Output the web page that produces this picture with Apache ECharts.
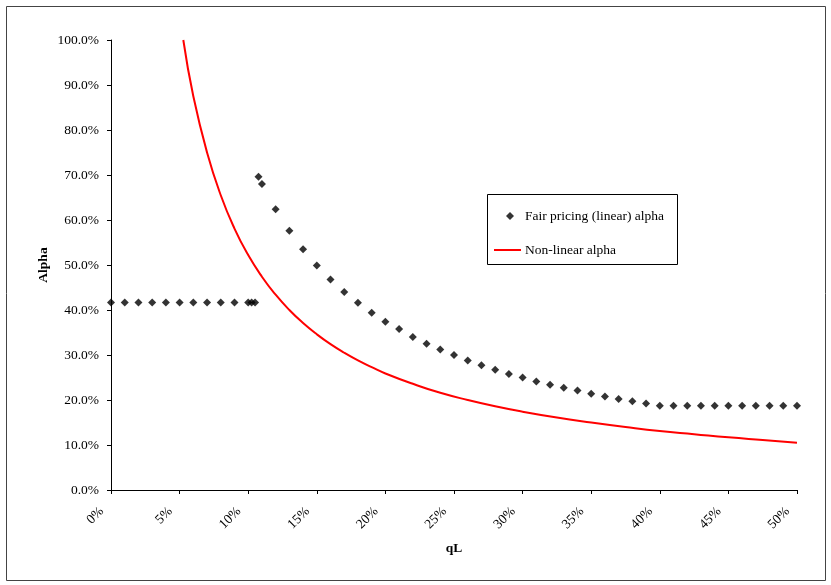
<!DOCTYPE html>
<html>
<head>
<meta charset="utf-8">
<script src="https://cdn.jsdelivr.net/npm/echarts@6/dist/echarts.min.js"></script>
<style>
  html, body { margin: 0; padding: 0; background: #fff; }
  #chart { width: 831px; height: 585px; }
</style>
</head>
<body>
<div id="chart"></div>
<script>
// Fair pricing (linear) alpha, sampled points: qL (%) and alpha (%)
const qLinear = [0, 1, 2, 3, 4, 5, 6, 7, 8, 9, 10, 10.25, 10.5,
  10.75, 11, 12, 13, 14, 15, 16, 17, 18, 19, 20, 21, 22, 23, 24, 25,
  26, 27, 28, 29, 30, 31, 32, 33, 34, 35, 36, 37, 38, 39,
  40, 41, 42, 43, 44, 45, 46, 47, 48, 49, 50];
const alphaLinear = [41.67, 41.67, 41.67, 41.67, 41.67, 41.67, 41.67, 41.67, 41.67, 41.67, 41.67, 41.67, 41.67,
  69.6, 68.0, 62.4, 57.6, 53.5, 49.9, 46.8, 44.0, 41.6, 39.4, 37.4, 35.8, 34.0, 32.5, 31.2, 30.0,
  28.8, 27.7, 26.7, 25.8, 25.0, 24.1, 23.4, 22.7, 22.1, 21.4, 20.8, 20.2, 19.7, 19.2,
  18.75, 18.75, 18.75, 18.75, 18.75, 18.75, 18.75, 18.75, 18.75, 18.75, 18.75];

// Non-linear alpha curve: qL (%) and alpha (%)
const qNonLinear = [5.27, 6, 7, 8, 9, 10, 11, 12, 13, 14, 15, 16, 17, 18, 19, 20,
  22, 24, 26, 28, 30, 32.5, 35, 37.5, 40, 42.5, 45, 47.5, 50];
const alphaNonLinear = [100, 87.5, 75.0, 65.5, 58.1, 52.2, 47.4, 43.4, 40.0, 37.1, 34.6, 32.4, 30.5, 28.8, 27.3, 25.9,
  23.6, 21.6, 20.0, 18.6, 17.4, 16.1, 15.0, 14.0, 13.1, 12.4, 11.7, 11.1, 10.5];

// Axis tick settings
const xTickStep = 5;
const yTickStep = 10;

const FONT = 'Liberation Serif';
const SERIES_LINEAR = 'Fair pricing (linear) alpha';
const SERIES_NONLINEAR = 'Non-linear alpha';

const chart = echarts.init(document.getElementById('chart'), null, { renderer: 'canvas' });

const legendText = { fontFamily: FONT, fontSize: 13.5, color: '#000' };

chart.setOption({
  backgroundColor: '#ffffff',
  animation: false,
  textStyle: { fontFamily: FONT, color: '#000' },
  graphic: [
    {
      // outer frame
      type: 'rect',
      shape: { x: 6.5, y: 6.5, width: 819, height: 574 },
      style: { fill: 'none', stroke: '#444', lineWidth: 1 },
      silent: true,
      z: -1
    },
    {
      // legend frame
      type: 'rect',
      shape: { x: 487.5, y: 194.5, width: 190, height: 70 },
      style: { fill: '#fff', stroke: '#000', lineWidth: 1 },
      silent: true,
      z: 5
    }
  ],
  grid: { left: 111, right: 34, top: 40, bottom: 95 },
  legend: [
    {
      left: 506,
      top: 209,
      padding: 0,
      itemWidth: 8,
      itemHeight: 8,
      z: 10,
      textStyle: Object.assign({ padding: [0, 0, 0, 6] }, legendText),
      data: [{ name: SERIES_LINEAR, icon: 'diamond' }]
    },
    {
      left: 494,
      top: 243,
      padding: 0,
      itemWidth: 27,
      itemHeight: 2,
      z: 10,
      textStyle: Object.assign({ padding: [0, 0, 0, -1] }, legendText),
      data: [{ name: SERIES_NONLINEAR, icon: 'rect' }]
    }
  ],
  xAxis: {
    type: 'value',
    min: 0,
    max: 50,
    interval: xTickStep,
    name: 'qL',
    nameLocation: 'middle',
    nameGap: 52,
    nameTextStyle: { fontFamily: FONT, fontSize: 13.5, fontWeight: 'bold', color: '#000' },
    axisLine: { show: true, onZero: false, lineStyle: { color: '#000', width: 1 } },
    axisTick: { show: true, inside: false, length: 4, lineStyle: { color: '#000' } },
    axisLabel: {
      rotate: 45,
      margin: 10,
      padding: [0, 13, 0, 0],
      fontFamily: FONT,
      fontSize: 13.5,
      color: '#000',
      formatter: v => v + '%'
    },
    splitLine: { show: false }
  },
  yAxis: {
    type: 'value',
    min: 0,
    max: 100,
    interval: yTickStep,
    name: 'Alpha',
    nameLocation: 'middle',
    nameGap: 60,
    nameMoveOverlap: false,
    nameRotate: 90,
    nameTextStyle: { fontFamily: FONT, fontSize: 13.5, fontWeight: 'bold', color: '#000' },
    axisLine: { show: true, lineStyle: { color: '#000', width: 1 } },
    axisTick: { show: true, inside: false, length: 4, lineStyle: { color: '#000' } },
    axisLabel: {
      margin: 12,
      fontFamily: FONT,
      fontSize: 13.5,
      color: '#000',
      formatter: v => v.toFixed(1) + '%'
    },
    splitLine: { show: false }
  },
  series: [
    {
      name: SERIES_LINEAR,
      type: 'scatter',
      symbol: 'diamond',
      symbolSize: 8,
      itemStyle: { color: '#000' },
      data: qLinear.map((q, i) => [q, alphaLinear[i]]),
      z: 3
    },
    {
      name: SERIES_NONLINEAR,
      type: 'line',
      smooth: 0.5,
      showSymbol: false,
      symbol: 'none',
      lineStyle: { color: '#ff0000', width: 2 },
      itemStyle: { color: '#ff0000' },
      data: qNonLinear.map((q, i) => [q, alphaNonLinear[i]]),
      z: 2
    }
  ]
});
</script>
</body>
</html>
